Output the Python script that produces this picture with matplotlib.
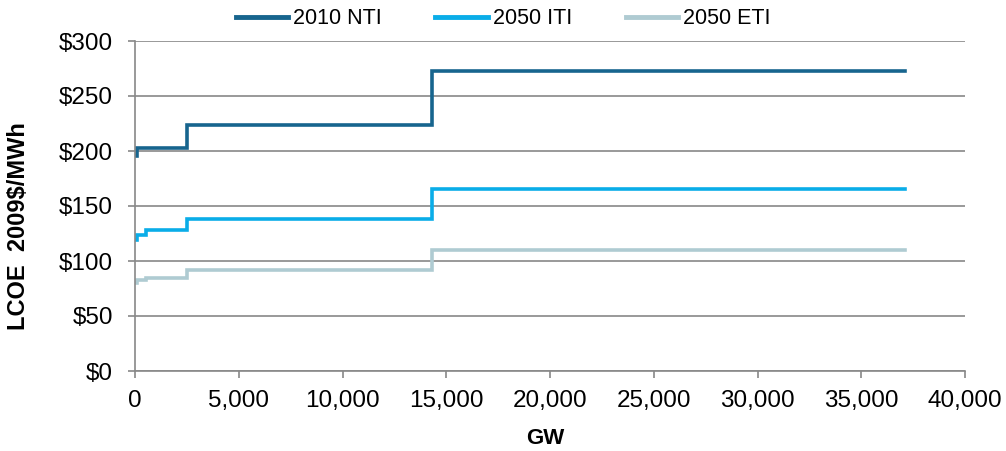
import matplotlib
matplotlib.use("Agg")
import matplotlib.pyplot as plt
from matplotlib.ticker import FuncFormatter

plt.rcParams['font.family'] = ['Liberation Sans', 'DejaVu Sans']

series_names = ["2010 NTI", "2050 ITI", "2050 ETI"]
nti_x = [0, 100, 2500, 14300, 37100]
nti_y = [195, 203, 224, 273, 273]
iti_x = [0, 100, 550, 2500, 14300, 37100]
iti_y = [119, 124, 128, 138, 165, 165]
eti_x = [0, 100, 550, 2500, 14300, 37100]
eti_y = [80, 83, 85, 92, 110, 110]
colors = ["#17658E", "#0AADE8", "#AFCBD2"]

fig = plt.figure(figsize=(10.06, 4.51), dpi=100)
ax = fig.add_axes([135/1006, 1-371/451, 830/1006, 330/451])

for xs, ys, c, n in zip([nti_x, iti_x, eti_x], [nti_y, iti_y, eti_y], colors, series_names):
    ax.plot(xs, ys, drawstyle='steps-post', color=c, lw=2.6, label=n, solid_joinstyle='miter')

ax.set_xlim(0, 40000)
ax.set_ylim(0, 300)
ax.set_xticks(range(0, 40001, 5000))
ax.set_yticks(range(0, 301, 50))
ax.xaxis.set_major_formatter(FuncFormatter(lambda v, p: f"{int(v):,}"))
ax.yaxis.set_major_formatter(FuncFormatter(lambda v, p: f"${int(v)}"))
ax.grid(axis='y', color='#888888', lw=1.2)
ax.set_axisbelow(True)
for s in ['top', 'right']:
    ax.spines[s].set_visible(False)
for s in ['left', 'bottom']:
    ax.spines[s].set_color('#888888')
    ax.spines[s].set_linewidth(1.2)
ax.tick_params(axis='both', labelsize=17.5, colors='#888888', labelcolor='black', length=5, width=1.2)
ax.tick_params(axis='y', pad=11)
ax.tick_params(axis='x', pad=9)
ax.set_xlabel("GW", fontsize=16, fontweight='bold')
ax.set_ylabel("LCOE  2009$/MWh", fontsize=17, fontweight='bold')
ax.xaxis.set_label_coords(0.4946, -0.172)
ax.yaxis.set_label_coords(-0.1265, 0.44)

leg = fig.legend(loc='center', bbox_to_anchor=(503/1006, 1-19/451), ncol=3, frameon=False,
                 fontsize=15.5, handlelength=2.42, columnspacing=2.5, handletextpad=0.23,
                 borderpad=0, borderaxespad=0)
for h in leg.get_lines():
    h.set_linewidth(3.5)

fig.savefig("out.png", dpi=100)
